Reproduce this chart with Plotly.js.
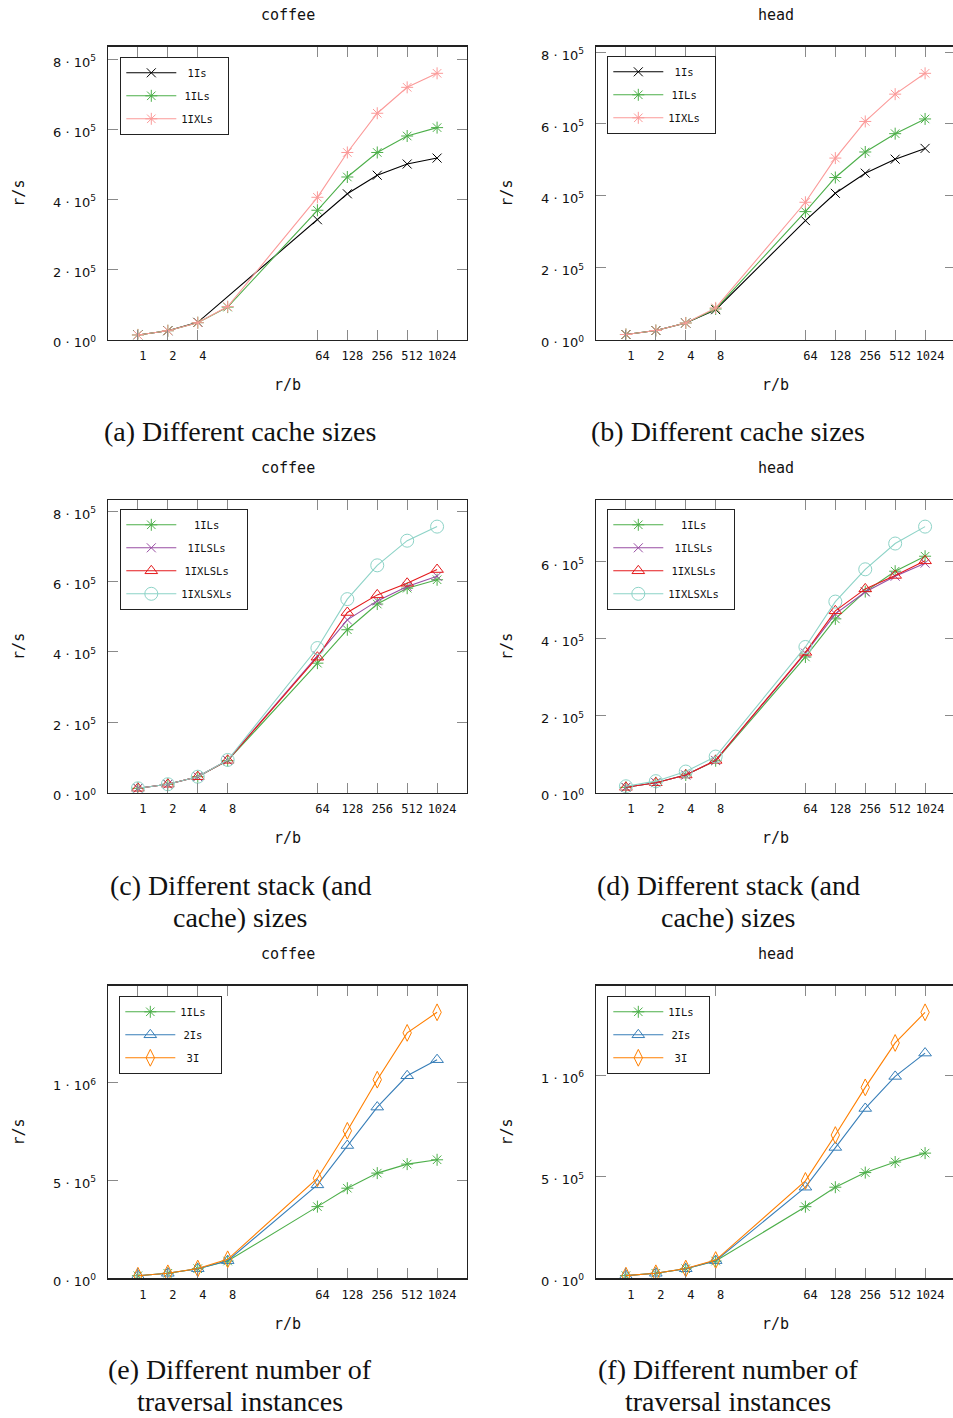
<!DOCTYPE html>
<html><head><meta charset="utf-8">
<script src="https://cdn.plot.ly/plotly-3.0.1.min.js"></script>
<style>html,body{margin:0;padding:0;overflow:hidden;background:#fff}#chart{width:960px;height:1418px}</style>
</head><body><div id="chart"></div>
<script>
// ---------- data ----------
const xAll = [1, 2, 4, 8, 64, 128, 256, 512, 1024];
const xNo8 = [1, 2, 4, 64, 128, 256, 512, 1024];
const xTickValsA = [1, 2, 4, 64, 128, 256, 512, 1024];
const xTickVals = [1, 2, 4, 8, 64, 128, 256, 512, 1024];

const yTicks8 = [0, 200000, 400000, 600000, 800000];
const yTickText8 = ['0 · 10<sup>0</sup>', '2 · 10<sup>5</sup>', '4 · 10<sup>5</sup>', '6 · 10<sup>5</sup>', '8 · 10<sup>5</sup>'];
const yTicks6 = [0, 200000, 400000, 600000];
const yTickText6 = ['0 · 10<sup>0</sup>', '2 · 10<sup>5</sup>', '4 · 10<sup>5</sup>', '6 · 10<sup>5</sup>'];
const yTicksM = [0, 500000, 1000000];
const yTickTextM = ['0 · 10<sup>0</sup>', '5 · 10<sup>5</sup>', '1 · 10<sup>6</sup>'];

const panelTitles = ['coffee', 'head', 'coffee', 'head', 'coffee', 'head'];
const captions = [
  ['(a) Different cache sizes'],
  ['(b) Different cache sizes'],
  ['(c) Different stack (and', 'cache) sizes'],
  ['(d) Different stack (and', 'cache) sizes'],
  ['(e) Different number of', 'traversal instances'],
  ['(f) Different number of', 'traversal instances']
];

// (a) coffee – cache sizes
const a_1Is   = [13000, 25000, 49000, 342000, 416000, 469000, 501000, 518000];
const a_1ILs  = [13000, 25000, 48000, 92500, 369000, 464000, 534000, 581000, 605000];
const a_1IXLs = [13000, 25000, 48000, 94000, 406000, 534000, 646000, 720000, 760000];
// (b) head – cache sizes
const b_1Is   = [13900, 25000, 46000, 83000, 331000, 407000, 463000, 502000, 532000];
const b_1ILs  = [13900, 25000, 46000, 85000, 356000, 451000, 522000, 573000, 614000];
const b_1IXLs = [13900, 25000, 46000, 88000, 382000, 505000, 607000, 683000, 741000];
// (c) coffee – stack sizes
const c_1ILs     = [12500, 24000, 45500, 91000, 368000, 463000, 536000, 581000, 605000];
const c_1ILSLs   = [12500, 24000, 45500, 92000, 389000, 491000, 545000, 586000, 615000];
const c_1IXLSLs  = [12500, 24000, 45500, 92000, 385000, 512000, 562000, 595000, 634000];
const c_1IXLSXLs = [12500, 24000, 45500, 93000, 411000, 550000, 646000, 716000, 756000];
// (d) head – stack sizes
const d_1ILs     = [14000, 26000, 46000, 83000, 353000, 452000, 523000, 576000, 615000];
const d_1ILSLs   = [14000, 26000, 46000, 84000, 363000, 465000, 522000, 563000, 597000];
const d_1IXLSLs  = [14000, 26000, 46000, 84000, 365000, 473000, 530000, 565000, 603000];
const d_1IXLSXLs = [16700, 30000, 55000, 94000, 379000, 497000, 581000, 648000, 692000];
// (e) coffee – traversal instances
const e_1ILs = [13000, 25500, 49000, 88000, 366000, 460000, 537000, 583000, 605000];
const e_2Is  = [13000, 25500, 49000, 90000, 477000, 678000, 874000, 1034000, 1116000];
const e_3I   = [13000, 25500, 50000, 97000, 511000, 753000, 1014000, 1253000, 1358000];
// (f) head – traversal instances
const f_1ILs = [13000, 24700, 47000, 85000, 353000, 449000, 521000, 573000, 617000];
const f_2Is  = [13000, 24700, 47000, 87000, 449000, 645000, 837000, 995000, 1110000];
const f_3I   = [13000, 24700, 48000, 90000, 480000, 706000, 941000, 1160000, 1311000];

const panels = [
  {ticks: xTickValsA, yt: yTicks8, ytt: yTickText8, series: [['1Is', xNo8, a_1Is], ['1ILs', xAll, a_1ILs], ['1IXLs', xAll, a_1IXLs]]},
  {ticks: xTickVals, yt: yTicks8, ytt: yTickText8, series: [['1Is', xAll, b_1Is], ['1ILs', xAll, b_1ILs], ['1IXLs', xAll, b_1IXLs]]},
  {ticks: xTickVals, yt: yTicks8, ytt: yTickText8, series: [['1ILs', xAll, c_1ILs], ['1ILSLs', xAll, c_1ILSLs], ['1IXLSLs', xAll, c_1IXLSLs], ['1IXLSXLs', xAll, c_1IXLSXLs]]},
  {ticks: xTickVals, yt: yTicks6, ytt: yTickText6, series: [['1ILs', xAll, d_1ILs], ['1ILSLs', xAll, d_1ILSLs], ['1IXLSLs', xAll, d_1IXLSLs], ['1IXLSXLs', xAll, d_1IXLSXLs]]},
  {ticks: xTickVals, yt: yTicksM, ytt: yTickTextM, series: [['1ILs', xAll, e_1ILs], ['2Is', xAll, e_2Is], ['3I', xAll, e_3I]]},
  {ticks: xTickVals, yt: yTicksM, ytt: yTickTextM, series: [['1ILs', xAll, f_1ILs], ['2Is', xAll, f_2Is], ['3I', xAll, f_3I]]}
];

// ---------- styles ----------
const styles = {
  '1Is':      {color: '#000000', symbol: 'x-thin-open', size: 9},
  '1ILs':     {color: '#4daf4a', symbol: 'asterisk-open', size: 10},
  '1IXLs':    {color: '#fb9a99', symbol: 'asterisk-open', size: 10},
  '1ILSLs':   {color: '#984ea3', symbol: 'x-thin-open', size: 9},
  '1IXLSLs':  {color: '#e41a1c', symbol: 'triangle-up-open', size: 11},
  '1IXLSXLs': {color: '#8dd3c7', symbol: 'circle-open', size: 13},
  '2Is':      {color: '#377eb8', symbol: 'triangle-up-open', size: 11},
  '3I':       {color: '#ff7f00', symbol: 'diamond-tall-open', size: 12}
};

const W = 960, H = 1418;
const colX = [[108, 467], [596, 955]];
const rowY = [[46.7, 339.5], [500, 792.7], [985.7, 1278.3]];
const legendBox = [[120, 57], [607, 56], [120, 509], [607, 509], [119, 996], [607, 996]];
const mono = 'DejaVu Sans Mono';
const px = v => v / W;
const py = v => 1 - v / H;
const halfSpace = '<span style="font-size:5.25px">\u00a0</span>';

const traces = [];
const layout = {
  width: W, height: H,
  margin: {l: 0, r: 0, t: 0, b: 0},
  paper_bgcolor: '#fff', plot_bgcolor: '#fff',
  showlegend: true,
  annotations: []
};

panels.forEach((p, i) => {
  const s = i === 0 ? '' : String(i + 1);
  const col = i % 2, row = Math.floor(i / 2);
  const maxLen = Math.max(...p.series.map(q => q[0].length));
  let ymax = 0;
  p.series.forEach((q, k) => {
    const [name, xs, ys] = q;
    ymax = Math.max(ymax, ...ys);
    const st = styles[name];
    const pad = (maxLen - name.length) / 2;
    const label = '\u00a0'.repeat(Math.floor(pad)) + (pad % 1 ? halfSpace : '') + name +
      '\u00a0'.repeat(Math.ceil(pad)) + '\u00a0';
    traces.push({
      type: 'scatter', mode: 'lines+markers', x: xs, y: ys, name: label,
      xaxis: 'x' + s, yaxis: 'y' + s, legend: 'legend' + s, legendgroup: 'g' + i + '_' + k,
      line: {color: st.color, width: 1.1},
      marker: {symbol: st.symbol, size: st.size, color: st.color, line: {color: st.color, width: 1}},
      hoverinfo: 'x+y'
    });
  });
  layout['xaxis' + s] = {
    type: 'log', range: [Math.log10(0.5), Math.log10(2048)],
    domain: [px(colX[col][0]), px(colX[col][1])], anchor: 'y' + s,
    tickmode: 'array', tickvals: p.ticks, ticktext: p.ticks.map(String),
    tickfont: {family: mono, size: 12, color: '#111'},
    ticks: 'inside', ticklen: 10, tickcolor: '#8a8a8a', tickwidth: 1,
    mirror: 'allticks', showline: true, linecolor: '#222', linewidth: 1.3,
    showgrid: false, zeroline: false, ticklabelshift: 5, ticklabelstandoff: 5,
    title: {text: 'r/b', font: {family: mono, size: 15, color: '#111'}, standoff: 17}
  };
  layout['yaxis' + s] = {
    range: [0, ymax * 1.1],
    domain: [py(rowY[row][1]), py(rowY[row][0])], anchor: 'x' + s,
    tickmode: 'array', tickvals: p.yt, ticktext: p.ytt,
    tickfont: {family: 'DejaVu Sans', size: 13, color: '#111'},
    ticks: 'inside', ticklen: 10, tickcolor: '#8a8a8a', tickwidth: 1,
    mirror: 'allticks', showline: true, linecolor: '#222', linewidth: 1.3,
    showgrid: false, zeroline: false, ticklabelstandoff: 8, ticklabelshift: 3,
    title: {text: 'r/s', font: {family: mono, size: 15, color: '#111'}, standoff: 24}
  };
  layout['legend' + s] = {
    x: px(legendBox[i][0]), y: py(legendBox[i][1]), xanchor: 'left', yanchor: 'top',
    xref: 'paper', yref: 'paper',
    bgcolor: '#fff', bordercolor: '#222', borderwidth: 1.3,
    font: {family: mono, size: 10.5, color: '#111'},
    tracegroupgap: 4, itemwidth: 50, traceorder: 'grouped'
  };
  const cx = (colX[col][0] + colX[col][1]) / 2;
  const titleY = [15, 468, 954][row];
  layout.annotations.push({
    text: panelTitles[i], x: px(cx), y: py(titleY), xref: 'paper', yref: 'paper',
    xanchor: 'center', yanchor: 'middle', showarrow: false,
    font: {family: mono, size: 15, color: '#111'}
  });
  const capX = [240, 728][col];
  const capY = [[432], [885, 917], [1369, 1401]][row];
  captions[i].forEach((line, li) => {
    layout.annotations.push({
      text: line, x: px(capX), y: py(capY[li]), xref: 'paper', yref: 'paper',
      xanchor: 'center', yanchor: 'middle', showarrow: false,
      font: {family: 'Liberation Serif', size: 28, color: '#111'}
    });
  });
});

Plotly.newPlot('chart', traces, layout, {staticPlot: true, displayModeBar: false});
</script>
</body></html>
